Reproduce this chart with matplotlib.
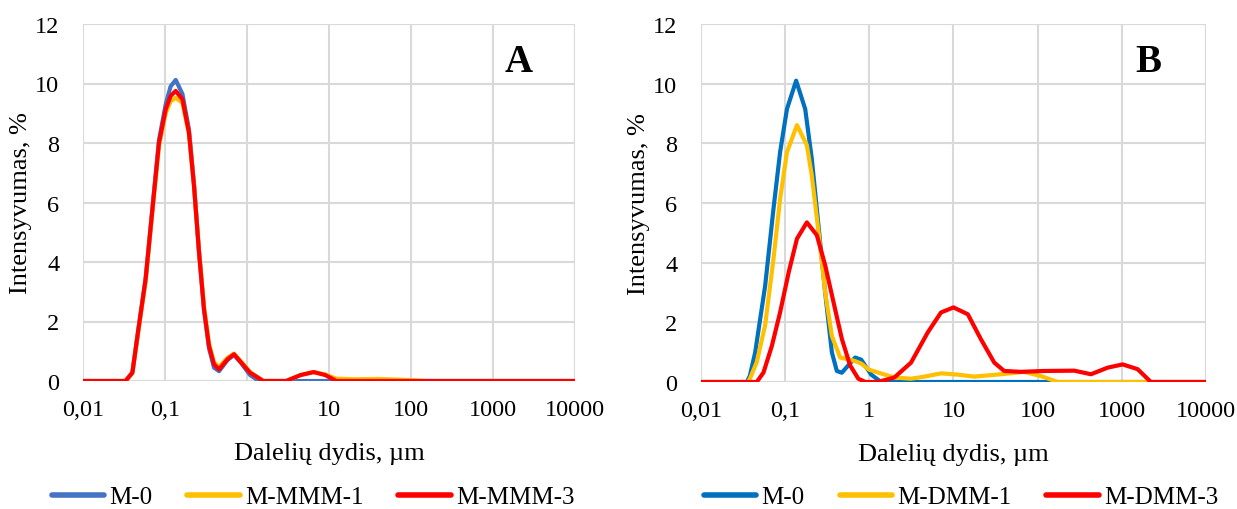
import matplotlib.pyplot as plt
from matplotlib.ticker import FixedLocator, NullLocator

plt.rcParams['font.family'] = ['Liberation Serif', 'DejaVu Serif']

# Panel A data (particle size, um -> intensity, %)
a_base_x = [0.01, 0.033, 0.040, 0.048, 0.058, 0.0702, 0.0845, 0.102, 0.117, 0.135,
            0.163, 0.196, 0.226, 0.26, 0.299, 0.344, 0.396, 0.456, 0.577, 0.694]

a_m0_x = a_base_x + [0.85, 1.09, 1.4, 10000]
a_m0_y = [0, 0, 0.28, 1.85, 3.42, 5.8, 8.1, 9.3, 9.9, 10.12,
          9.65, 8.45, 6.6, 4.35, 2.4, 1.1, 0.45, 0.33, 0.7, 0.88,
          0.6, 0.2, 0, 0]

a_mmm1_x = a_base_x + [0.85, 1.09, 1.58, 3.0, 4.5, 6.5, 9.0, 12.3, 20, 40, 100, 150, 10000]
a_mmm1_y = [0, 0, 0.28, 1.8, 3.35, 5.7, 7.9, 9.0, 9.4, 9.52,
            9.35, 8.3, 6.55, 4.35, 2.5, 1.25, 0.62, 0.48, 0.78, 0.92,
            0.65, 0.3, 0, 0, 0.2, 0.3, 0.22, 0.08, 0.06, 0.07, 0.03, 0, 0]

a_mmm3_x = a_base_x + [0.85, 1.09, 1.58, 3.0, 4.5, 6.5, 9.0, 12.3, 10000]
a_mmm3_y = [0, 0, 0.28, 1.85, 3.42, 5.77, 8.01, 9.13, 9.58, 9.75,
            9.47, 8.35, 6.55, 4.32, 2.41, 1.18, 0.56, 0.39, 0.73, 0.9,
            0.62, 0.28, 0, 0, 0.2, 0.3, 0.2, 0, 0]

# Panel B data
b_m0_x = [0.01, 0.035, 0.038, 0.044, 0.0578, 0.0726, 0.087, 0.105, 0.135, 0.173,
          0.207, 0.249, 0.299, 0.359, 0.411, 0.471, 0.678, 0.8, 1.05, 1.38, 10000]
b_m0_y = [0, 0, 0.2, 0.99, 3.22, 5.8, 7.7, 9.15, 10.1, 9.15,
          7.49, 5.23, 2.99, 0.99, 0.37, 0.31, 0.82, 0.75, 0.25, 0, 0]

b_dmm1_x = [0.01, 0.036, 0.038, 0.046, 0.0578, 0.0726, 0.087, 0.105, 0.138, 0.181,
            0.207, 0.249, 0.299, 0.359, 0.45, 0.647, 0.8, 0.98, 1.26, 1.98,
            3.13, 4.5, 7.1, 11, 17.7, 36.7, 69, 109, 173, 10000]
b_dmm1_y = [0, 0, 0.1, 0.67, 1.9, 4.12, 6.13, 7.7, 8.61, 7.94,
            6.93, 5.03, 3.0, 1.54, 0.82, 0.72, 0.62, 0.42, 0.32, 0.15,
            0.11, 0.18, 0.29, 0.25, 0.18, 0.26, 0.34, 0.2, 0, 0]

b_dmm3_x = [0.01, 0.046, 0.0553, 0.0695, 0.087, 0.11, 0.138, 0.181, 0.238, 0.299,
            0.375, 0.471, 0.59, 0.74, 0.9, 1.26, 1.98, 3.13, 4.94, 7.1,
            10, 14.8, 21.2, 30.5, 40, 63, 120, 272, 430, 677,
            1023, 1540, 2215, 10000]
b_dmm3_y = [0, 0, 0.32, 1.21, 2.33, 3.67, 4.8, 5.35, 4.92, 3.91,
            2.68, 1.45, 0.56, 0.11, 0, 0, 0.15, 0.65, 1.66, 2.33,
            2.5, 2.27, 1.43, 0.65, 0.37, 0.34, 0.37, 0.38, 0.26, 0.48,
            0.59, 0.43, 0, 0]

x_ticks = [0.01, 0.1, 1, 10, 100, 1000, 10000]
x_tick_labels = ['0,01', '0,1', '1', '10', '100', '1000', '10000']
y_ticks = [0, 2, 4, 6, 8, 10, 12]

fig = plt.figure(figsize=(12.37, 5.10), dpi=100)
ax_a = fig.add_axes([83 / 1237, 1 - 382 / 510, 492 / 1237, 357 / 510])
ax_b = fig.add_axes([701 / 1237, 1 - 383 / 510, 505 / 1237, 358 / 510])

panels = [
    (ax_a, 'A', 313, [(a_m0_x, a_m0_y, '#4472C4', 'M-0'),
                      (a_mmm1_x, a_mmm1_y, '#FFC000', 'M-MMM-1'),
                      (a_mmm3_x, a_mmm3_y, '#FF0000', 'M-MMM-3')]),
    (ax_b, 'B', 961, [(b_m0_x, b_m0_y, '#0070C0', 'M-0'),
                      (b_dmm1_x, b_dmm1_y, '#FFC000', 'M-DMM-1'),
                      (b_dmm3_x, b_dmm3_y, '#FF0000', 'M-DMM-3')]),
]

grid_c = '#D9D9D9'
for ax, letter, leg_x, series in panels:
    for xs, ys, color, label in series:
        ax.plot(xs, ys, color=color, lw=3.0, label=label,
                solid_joinstyle='round', solid_capstyle='round', zorder=3)
    ax.set_xscale('log')
    ax.set_xlim(0.01, 10000)
    ax.set_ylim(0, 12)
    ax.xaxis.set_major_locator(FixedLocator(x_ticks))
    ax.xaxis.set_minor_locator(NullLocator())
    ax.set_xticklabels(x_tick_labels)
    ax.set_yticks(y_ticks)
    ax.tick_params(length=0, labelsize=17.5)
    ax.tick_params(axis='x', pad=13)
    ax.tick_params(axis='y', pad=17)
    ax.grid(True, color=grid_c, lw=1.5)
    for s in ax.spines.values():
        s.set_visible(False)
    ax.axhline(12, color=grid_c, lw=1.5, zorder=1)
    ax.axhline(0, color=grid_c, lw=1.5, zorder=1)
    ax.axvline(10000, color=grid_c, lw=1.5, zorder=1)
    ax.axvline(0.01, color=grid_c, lw=1.5, zorder=1)
    ax.set_xlabel('Dalelių dydis, µm', fontsize=19, labelpad=16)
    ax.set_ylabel('Intensyvumas, %', fontsize=19, labelpad=2)
    ax.text(0.885, 0.896, letter, transform=ax.transAxes, fontsize=28,
            fontweight='bold', ha='center', va='center')
    leg = ax.legend(loc='center', bbox_to_anchor=(leg_x / 1237, 1 - 498 / 510),
                    bbox_transform=fig.transFigure, ncol=3, frameon=False,
                    fontsize=18, handlelength=2.1, columnspacing=1.4, handletextpad=0.2)
    for line in leg.get_lines():
        line.set_linewidth(4.0)

fig.savefig('out.png', dpi=100)
